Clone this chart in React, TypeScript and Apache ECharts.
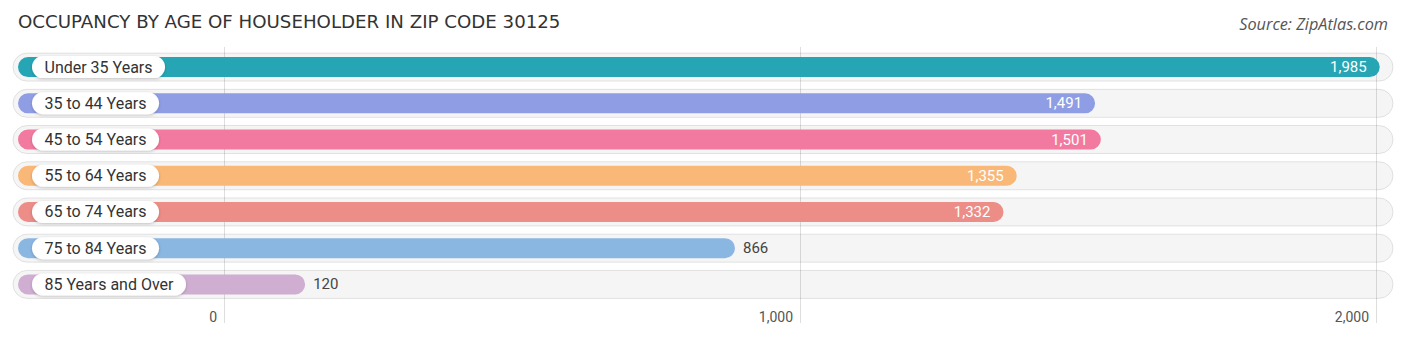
import React, { useEffect, useRef } from "react";
import * as echarts from "echarts";

const categories = [
  "Under 35 Years",
  "35 to 44 Years",
  "45 to 54 Years",
  "55 to 64 Years",
  "65 to 74 Years",
  "75 to 84 Years",
  "85 Years and Over",
];
const values = [1985, 1491, 1501, 1355, 1332, 866, 120];
const colors = ["#26a6b5", "#8f9ee4", "#f27aa0", "#f9b878", "#ec8d87", "#8ab6e2", "#cfaed2"];
const tickValues = [0, 1000, 2000];
const titleText = "OCCUPANCY BY AGE OF HOUSEHOLDER IN ZIP CODE 30125";
const sourceText = "Source: ZipAtlas.com";

export default function App() {
  const ref = useRef<HTMLDivElement>(null);
  useEffect(() => {
    if (!ref.current) return;
    const chart = echarts.init(ref.current, undefined, { renderer: "svg" });
    const fmt = (v: number) => v.toLocaleString("en-US");
    const option: any = {
      animation: false,
      backgroundColor: "#ffffff",
      title: [
        {
          text: titleText,
          left: 13,
          top: 7,
          textStyle: { fontFamily: "DejaVu Sans", fontSize: 18.2, fontWeight: "normal", color: "#333" },
        },
        {
          text: sourceText,
          right: 13,
          top: 11,
          textStyle: { fontFamily: "Open Sans", fontSize: 16.3, fontStyle: "italic", fontWeight: "normal", color: "#555" },
        },
      ],
      grid: [
        { left: 224, right: 30, top: 47, bottom: 17 },
        { left: 13, right: 13, top: 49, bottom: 37.5 },
      ],
      xAxis: [
        {
          type: "value",
          gridIndex: 0,
          min: tickValues[0],
          max: tickValues[tickValues.length - 1],
          interval: 1000,
          axisLine: { show: false },
          axisTick: { show: false },
          splitLine: { show: true, lineStyle: { color: "#dedede", width: 1 } },
          axisLabel: {
            inside: true,
            margin: 6,
            verticalAlign: "middle",
            align: "right",
            padding: [0, 7, 0, 0],
            fontFamily: "Roboto",
            fontSize: 14,
            color: "#555",
            formatter: (v: number) => fmt(v),
          },
        },
        {
          type: "value",
          gridIndex: 1,
          min: -387,
          max: 2008,
          show: false,
          splitLine: { show: false },
        },
      ],
      yAxis: [
        { type: "category", gridIndex: 0, show: false, data: categories, inverse: true },
        {
          type: "category",
          gridIndex: 1,
          data: categories,
          inverse: true,
          z: 10,
          axisLine: { show: false },
          axisTick: { show: false },
          splitLine: { show: false },
          axisLabel: {
            inside: true,
            margin: 19,
            align: "left",
            verticalAlign: "middle",
            fontFamily: "Roboto",
            fontSize: 16,
            lineHeight: 16,
            color: "#333",
            backgroundColor: "#ffffff",
            borderRadius: 11,
            padding: [3, 12.5, 3, 12.5],
            shadowColor: "rgba(0,0,0,0.22)",
            shadowBlur: 3,
            shadowOffsetY: 1,
          },
        },
      ],
      series: [
        {
          type: "custom",
          xAxisIndex: 1,
          yAxisIndex: 1,
          z: 2,
          encode: { x: 0, y: 1 },
          data: values.map((v, i) => [v, i]),
          renderItem: (params: any, api: any) => {
            const v = api.value(0);
            const i = api.value(1);
            const cs = params.coordSys;
            const end = api.coord([v, i]);
            const cy = end[1];
            const barStart = cs.x + 5;
            const inside = v >= 1000;
            const color = colors[params.dataIndex];
            return {
              type: "group",
              children: [
                {
                  type: "rect",
                  shape: { x: cs.x, y: cy - 14, width: cs.width, height: 28, r: 14 },
                  style: { fill: "rgba(0,0,0,0.04)", stroke: "rgba(0,0,0,0.10)", lineWidth: 1 },
                },
                {
                  type: "rect",
                  shape: { x: barStart, y: cy - 10, width: end[0] - barStart, height: 20, r: 10 },
                  style: { fill: color },
                },
                {
                  type: "text",
                  x: inside ? end[0] - 13 : end[0] + 8,
                  y: cy,
                  style: {
                    text: fmt(v),
                    fontFamily: "Roboto",
                    fontSize: 15,
                    fill: inside ? "#ffffff" : "#444",
                    align: inside ? "right" : "left",
                    verticalAlign: "middle",
                  },
                },
              ],
            };
          },
        },
      ],
    };
    chart.setOption(option);
    return () => chart.dispose();
  }, []);
  return (
    <div
      ref={ref}
      style={{ position: "fixed", left: 0, top: 0, width: 1406, height: 340 }}
    />
  );
}
